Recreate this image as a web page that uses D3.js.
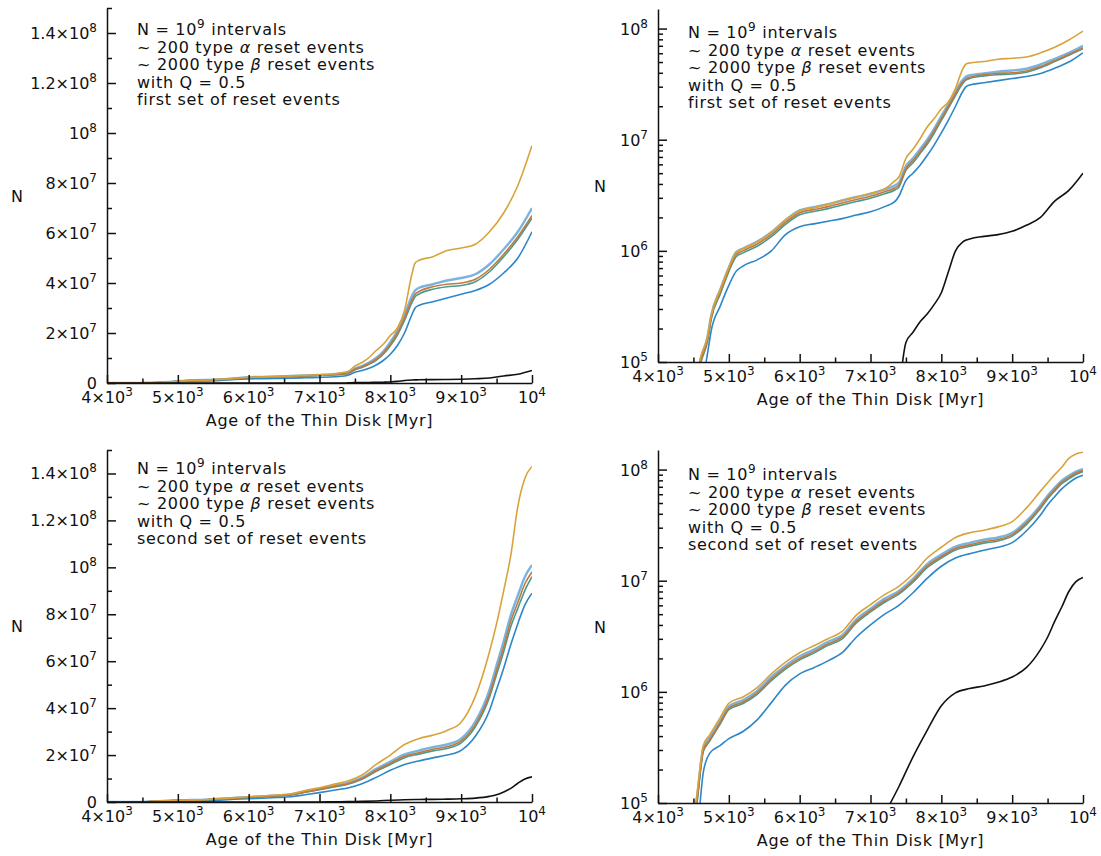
<!DOCTYPE html>
<html>
<head>
<meta charset="utf-8">
<script src="https://cdn.jsdelivr.net/npm/d3@7"></script>
<style>
  body { margin: 0; background: #fff; }
  svg text { font-family: "DejaVu Sans", sans-serif; fill: #111; }
</style>
</head>
<body>
<svg id="fig" width="1101" height="856"></svg>
<script>
// ---------- first set of reset events ----------
const ages1 = [4000, 4400, 4550, 4600, 4700, 4750, 4880, 5000, 5100, 5200, 5400, 5600, 5800, 6000, 6200, 6400, 6600, 6800, 7000, 7200,
  7350, 7400, 7500, 7600, 7700, 7800, 7900, 8000, 8100, 8200, 8300, 8350, 8400, 8600, 8800, 9000, 9200, 9400, 9600, 9800, 10000];
const gold1 = [0, 2e4, 8e4, 1.1e5, 1.7e5, 2.6e5, 4.5e5, 7.1e5, 9.6e5, 1.05e6, 1.2e6, 1.47e6, 1.9e6, 2.3e6, 2.45e6, 2.62e6, 2.85e6, 3.05e6, 3.3e6, 3.6e6,
  4.3e6, 4.6e6, 6.8e6, 8.2e6, 1.02e7, 1.3e7, 1.55e7, 1.9e7, 2.2e7, 2.9e7, 4.3e7, 4.8e7, 4.9e7, 5.05e7, 5.3e7, 5.4e7, 5.55e7, 6.05e7, 6.8e7, 7.9e7, 9.5e7];
const lightBlue1 = [0, 2.1e4, 7.4e4, 1.05e5, 1.7e5, 2.6e5, 4.5e5, 7.1e5, 9.7e5, 1.05e6, 1.21e6, 1.47e6, 1.89e6, 2.31e6, 2.47e6, 2.63e6, 2.84e6, 3.05e6, 3.26e6, 3.57e6,
  3.9e6, 4.1e6, 5.8e6, 6.8e6, 8.2e6, 1.0e7, 1.26e7, 1.63e7, 2.1e7, 2.73e7, 3.45e7, 3.7e7, 3.8e7, 3.95e7, 4.1e7, 4.2e7, 4.35e7, 4.75e7, 5.35e7, 6.05e7, 7.0e7];
const brown1 = [0, 2e4, 7e4, 1.0e5, 1.6e5, 2.5e5, 4.3e5, 6.8e5, 9.2e5, 1.0e6, 1.15e6, 1.4e6, 1.8e6, 2.2e6, 2.35e6, 2.5e6, 2.7e6, 2.9e6, 3.1e6, 3.4e6,
  3.7e6, 3.9e6, 5.5e6, 6.5e6, 7.8e6, 9.5e6, 1.2e7, 1.55e7, 2.0e7, 2.6e7, 3.3e7, 3.55e7, 3.65e7, 3.85e7, 3.95e7, 4.0e7, 4.15e7, 4.55e7, 5.15e7, 5.85e7, 6.7e7];
const green1 = [0, 1.9e4, 6.7e4, 9.6e4, 1.54e5, 2.4e5, 4.1e5, 6.5e5, 8.8e5, 9.6e5, 1.1e6, 1.34e6, 1.73e6, 2.11e6, 2.26e6, 2.4e6, 2.59e6, 2.78e6, 2.98e6, 3.26e6,
  3.55e6, 3.74e6, 5.3e6, 6.2e6, 7.5e6, 9.1e6, 1.15e7, 1.49e7, 1.92e7, 2.5e7, 3.18e7, 3.45e7, 3.55e7, 3.75e7, 3.85e7, 3.9e7, 4.05e7, 4.45e7, 5.05e7, 5.75e7, 6.6e7];
const blue1 = [0, 1e4, 3e4, 5e4, 1.2e5, 1.9e5, 3.2e5, 4.9e5, 6.5e5, 7.3e5, 8.3e5, 1.0e6, 1.4e6, 1.65e6, 1.75e6, 1.85e6, 1.95e6, 2.1e6, 2.25e6, 2.5e6,
  2.8e6, 3.1e6, 4.3e6, 5.0e6, 5.9e6, 7.2e6, 9.0e6, 1.15e7, 1.5e7, 2.0e7, 2.7e7, 3.0e7, 3.1e7, 3.25e7, 3.4e7, 3.55e7, 3.7e7, 3.95e7, 4.4e7, 5.0e7, 6.05e7];
const black1 = [0, 0, 0, 0, 0, 0, 0, 0, 0, 0, 0, 0, 0, 0, 0, 0, 0, 0, 0, 0,
  0, 5e4, 1.5e5, 1.85e5, 2.3e5, 2.7e5, 3.3e5, 4.2e5, 6.5e5, 1.0e6, 1.2e6, 1.25e6, 1.28e6, 1.35e6, 1.4e6, 1.5e6, 1.7e6, 2.0e6, 2.8e6, 3.5e6, 5.0e6];

// ---------- second set of reset events ----------
const ages2 = [4000, 4400, 4500, 4550, 4640, 4730, 4880, 5000, 5200, 5400, 5600, 5800, 6000, 6200, 6400, 6600, 6800, 7000,
  7200, 7400, 7600, 7800, 8000, 8200, 8400, 8600, 8800, 9000, 9200, 9400, 9500, 9600, 9700, 9800, 9900, 10000];
const gold2 = [0, 2.5e4, 7e4, 1.2e5, 3.3e5, 4.1e5, 5.9e5, 7.9e5, 9.0e5, 1.09e6, 1.45e6, 1.85e6, 2.25e6, 2.6e6, 3.0e6, 3.5e6, 4.9e6, 6.1e6,
  7.5e6, 8.9e6, 1.15e7, 1.6e7, 2.0e7, 2.45e7, 2.7e7, 2.85e7, 3.05e7, 3.4e7, 4.5e7, 6.4e7, 7.6e7, 9.0e7, 1.05e8, 1.26e8, 1.38e8, 1.43e8];
const lightBlue2 = [0, 2.1e4, 6.3e4, 1.1e5, 3.15e5, 3.9e5, 5.55e5, 7.4e5, 8.45e5, 1.02e6, 1.36e6, 1.72e6, 2.09e6, 2.4e6, 2.82e6, 3.23e6, 4.5e6, 5.6e6,
  6.9e6, 8.1e6, 1.04e7, 1.41e7, 1.72e7, 2.03e7, 2.19e7, 2.34e7, 2.45e7, 2.7e7, 3.43e7, 4.78e7, 5.82e7, 6.85e7, 7.95e7, 8.8e7, 9.6e7, 1.01e8];
const brown2 = [0, 2e4, 6e4, 1.05e5, 3.0e5, 3.7e5, 5.3e5, 7.1e5, 8.1e5, 9.8e5, 1.3e6, 1.65e6, 2.0e6, 2.3e6, 2.7e6, 3.1e6, 4.3e6, 5.4e6,
  6.6e6, 7.8e6, 1.0e7, 1.35e7, 1.65e7, 1.95e7, 2.1e7, 2.25e7, 2.35e7, 2.6e7, 3.3e7, 4.6e7, 5.6e7, 6.6e7, 7.7e7, 8.5e7, 9.3e7, 9.8e7];
const green2 = [0, 1.9e4, 5.8e4, 1.0e5, 2.9e5, 3.6e5, 5.15e5, 6.9e5, 7.85e5, 9.5e5, 1.26e6, 1.6e6, 1.94e6, 2.23e6, 2.62e6, 3.0e6, 4.17e6, 5.24e6,
  6.4e6, 7.57e6, 9.7e6, 1.31e7, 1.6e7, 1.89e7, 2.04e7, 2.18e7, 2.28e7, 2.52e7, 3.2e7, 4.46e7, 5.43e7, 6.4e7, 7.47e7, 8.25e7, 9.02e7, 9.6e7];
const blue2 = [0, 1e4, 3e4, 5e4, 1.9e5, 2.8e5, 3.3e5, 3.8e5, 4.4e5, 5.6e5, 8.0e5, 1.15e6, 1.45e6, 1.65e6, 1.9e6, 2.25e6, 3.1e6, 4.0e6,
  5.0e6, 6.0e6, 7.8e6, 1.05e7, 1.35e7, 1.6e7, 1.75e7, 1.88e7, 2.0e7, 2.2e7, 2.8e7, 3.9e7, 4.8e7, 5.7e7, 6.7e7, 7.6e7, 8.4e7, 8.9e7];
const black2 = [0, 0, 0, 0, 0, 0, 0, 0, 0, 0, 0, 0, 0, 0, 0, 0, 0, 0,
  8e4, 1.4e5, 2.6e5, 4.5e5, 7.5e5, 9.8e5, 1.07e6, 1.13e6, 1.22e6, 1.36e6, 1.65e6, 2.4e6, 3.1e6, 4.3e6, 5.8e6, 8.0e6, 9.8e6, 1.07e7];

// ---------- ticks and texts ----------
const xTicks = [4000, 5000, 6000, 7000, 8000, 9000, 10000];
const xTickLabels = [["4×10", "3"], ["5×10", "3"], ["6×10", "3"], ["7×10", "3"], ["8×10", "3"], ["9×10", "3"], ["10", "4"]];
const linTicks = [0, 2e7, 4e7, 6e7, 8e7, 1e8, 1.2e8, 1.4e8];
const linTickLabels = [["0", ""], ["2×10", "7"], ["4×10", "7"], ["6×10", "7"], ["8×10", "7"], ["10", "8"], ["1.2×10", "8"], ["1.4×10", "8"]];
const logTicks = [1e5, 1e6, 1e7, 1e8];
const logTickLabels = [["10", "5"], ["10", "6"], ["10", "7"], ["10", "8"]];
const setNames = ["first set of reset events", "second set of reset events"];

// ===============================
// LAYOUT + STYLE
// ===============================
const svg = d3.select("#fig");

const seriesStyle = [
  { key: "lightBlue", color: "#79b4e0", width: 2.4 },
  { key: "blue", color: "#2c86c7", width: 1.6 },
  { key: "green", color: "#4a9b8c", width: 1.6 },
  { key: "brown", color: "#c5773b", width: 1.6 },
  { key: "gold", color: "#d9a33c", width: 1.6 },
  { key: "black", color: "#111", width: 1.6 }
];

const sets = [
  { ages: ages1, gold: gold1, lightBlue: lightBlue1, brown: brown1, green: green1, blue: blue1, black: black1 },
  { ages: ages2, gold: gold2, lightBlue: lightBlue2, brown: brown2, green: green2, blue: blue2, black: black2 }
];

const panels = [
  { set: 0, log: false, x0: 107, x1: 532, yTop: 8, yBot: 383, noteY: 35, labelX: 17 },
  { set: 0, log: true, x0: 658, x1: 1083, yTop: 9, yBot: 362, noteY: 38, labelX: 600 },
  { set: 1, log: false, x0: 107, x1: 532, yTop: 450, yBot: 802, noteY: 474, labelX: 17 },
  { set: 1, log: true, x0: 658, x1: 1083, yTop: 450, yBot: 803, noteY: 480, labelX: 600 }
];

// text with a superscript exponent
function supText(sel, base, exp) {
  sel.append("tspan").text(base);
  if (exp) sel.append("tspan").attr("font-size", 12).attr("dy", -7).text(exp);
}

function styleAxis(g) {
  g.selectAll("path, line").attr("stroke", "#111").attr("stroke-width", 1.5);
  g.selectAll("text").remove();
}

panels.forEach((p, i) => {
  const s = sets[p.set];
  const g = svg.append("g");

  const x = d3.scaleLinear().domain([4000, 10000]).range([p.x0, p.x1]);
  const y = p.log
    ? d3.scaleLog().domain([1e5, 1.5e8]).range([p.yBot, p.yTop])
    : d3.scaleLinear().domain([0, 1.5e8]).range([p.yBot, p.yTop]);

  // clip
  const clipId = "clip" + i;
  svg.append("clipPath").attr("id", clipId)
    .append("rect")
    .attr("x", p.x0).attr("y", p.yTop - 2)
    .attr("width", p.x1 - p.x0).attr("height", p.yBot - p.yTop + 2);

  // --- lines ---
  const line = d3.line()
    .x(d => x(d.a))
    .y(d => y(d.v))
    .curve(d3.curveMonotoneX);

  const lines = g.append("g").attr("clip-path", `url(#${clipId})`);
  seriesStyle.forEach(st => {
    let pts = s.ages.map((a, k) => ({ a, v: s[st.key][k] }));
    if (p.log) pts = pts.filter(d => d.v > 0);
    lines.append("path")
      .datum(pts)
      .attr("fill", "none")
      .attr("stroke", st.color)
      .attr("stroke-width", st.width)
      .attr("stroke-linejoin", "round")
      .attr("d", line);
  });

  // --- x axis ---
  const xMinor = d3.range(4500, 10000, 1000);
  g.append("g").attr("transform", `translate(0,${p.yBot})`)
    .call(d3.axisBottom(x).tickValues(xMinor).tickSizeInner(-4.5).tickSizeOuter(0))
    .call(styleAxis).select(".domain").remove();
  g.append("g").attr("transform", `translate(0,${p.yBot})`)
    .call(d3.axisBottom(x).tickValues(xTicks).tickSizeInner(-8).tickSizeOuter(0))
    .call(styleAxis);

  xTicks.forEach((t, k) => {
    g.append("text")
      .attr("x", x(t))
      .attr("y", p.yBot + 20)
      .attr("text-anchor", "middle")
      .style("font-size", "16px")
      .call(supText, xTickLabels[k][0], xTickLabels[k][1]);
  });

  // --- y axis ---
  let majors, labels, minors;
  if (p.log) {
    majors = logTicks;
    labels = logTickLabels;
    minors = [];
    [1e5, 1e6, 1e7].forEach(dec => d3.range(2, 10).forEach(m => minors.push(m * dec)));
  } else {
    majors = linTicks;
    labels = linTickLabels;
    minors = d3.range(1e7, 1.6e8, 2e7);
  }
  g.append("g").attr("transform", `translate(${p.x0},0)`)
    .call(d3.axisLeft(y).tickValues(minors).tickSizeInner(-5).tickSizeOuter(0))
    .call(styleAxis).select(".domain").remove();
  g.append("g").attr("transform", `translate(${p.x0},0)`)
    .call(d3.axisLeft(y).tickValues(majors).tickSizeInner(-9).tickSizeOuter(0))
    .call(styleAxis);

  majors.forEach((t, k) => {
    g.append("text")
      .attr("x", p.x0 - 10)
      .attr("y", y(t) + 6)
      .attr("text-anchor", "end")
      .style("font-size", "16px")
      .call(supText, labels[k][0], labels[k][1]);
  });

  // --- axis titles ---
  g.append("text")
    .attr("x", (p.x0 + p.x1) / 2)
    .attr("y", p.yBot + 43)
    .attr("text-anchor", "middle")
    .style("font-size", "16px")
    .style("letter-spacing", "0.7px")
    .text("Age of the Thin Disk [Myr]");

  g.append("text")
    .attr("x", p.labelX)
    .attr("y", (p.yTop + p.yBot) / 2 + 6)
    .attr("text-anchor", "middle")
    .style("font-size", "16px")
    .text("N");

  // --- note ---
  const note = g.append("g").attr("transform", `translate(${p.x0 + 30},${p.noteY})`)
    .style("font-size", "16px").style("letter-spacing", "0.7px");
  const step = 17.6;
  const t1 = note.append("text").attr("y", 0);
  t1.append("tspan").text("N = 10");
  t1.append("tspan").attr("font-size", 12).attr("dy", -7).text("9");
  t1.append("tspan").attr("dy", 7).text(" intervals");
  const t2 = note.append("text").attr("y", step);
  t2.append("tspan").text("~ 200 type ");
  t2.append("tspan").style("font-style", "italic").text("α");
  t2.append("tspan").text(" reset events");
  const t3 = note.append("text").attr("y", step * 2);
  t3.append("tspan").text("~ 2000 type ");
  t3.append("tspan").style("font-style", "italic").text("β");
  t3.append("tspan").text(" reset events");
  note.append("text").attr("y", step * 3).text("with Q = 0.5");
  note.append("text").attr("y", step * 4).text(setNames[p.set]);
});
</script>
</body>
</html>
